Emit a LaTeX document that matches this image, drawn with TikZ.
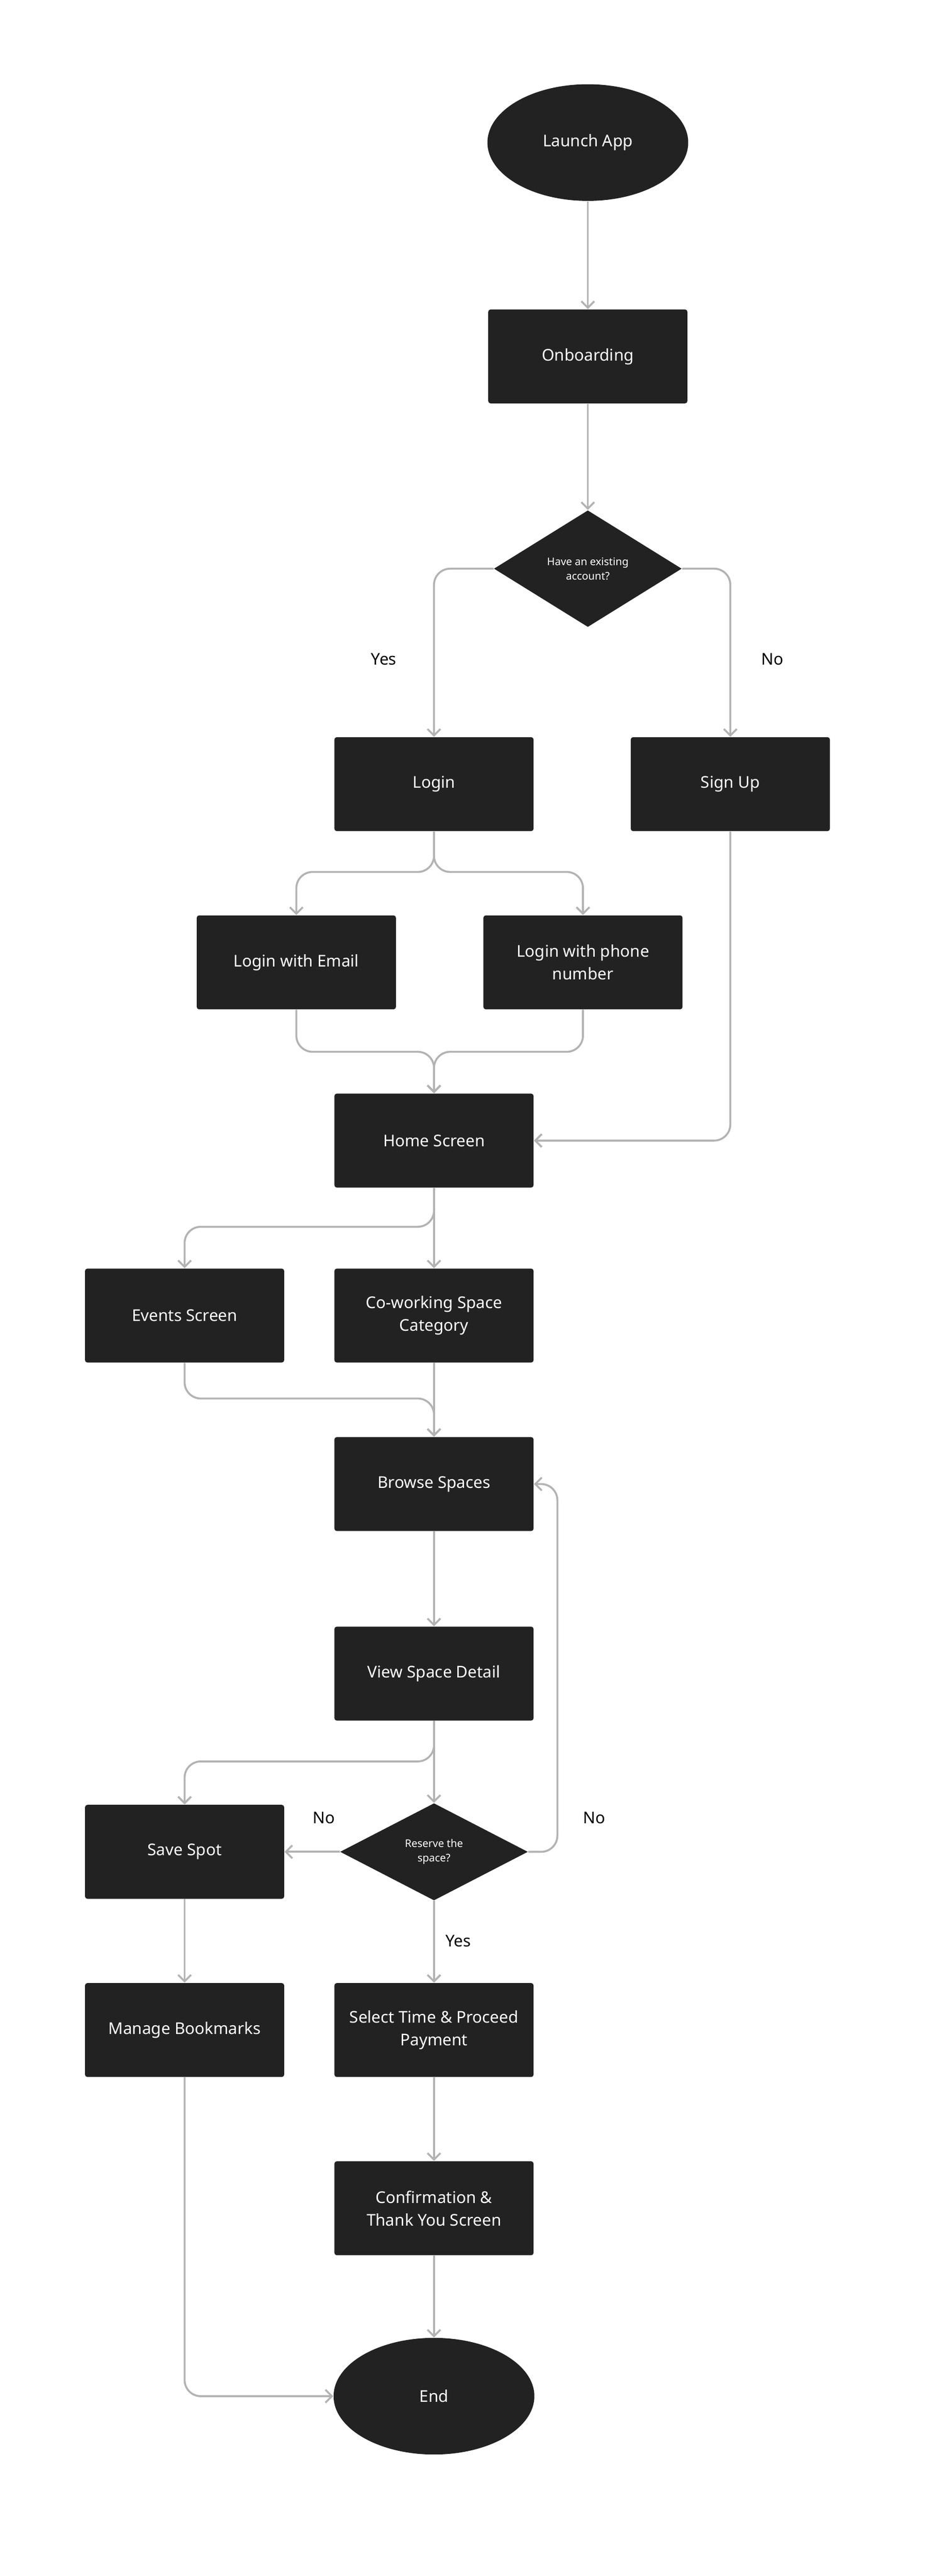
\documentclass[tikz,border=0pt]{standalone}
\usepackage{fontspec}
\setmainfont{Noto Sans}
\usetikzlibrary{shapes.geometric,arrows.meta}
\definecolor{box}{HTML}{222222}
\definecolor{ln}{HTML}{B3B3B3}
\begin{document}
\begin{tikzpicture}[x=1pt,y=-1pt,
  rect/.style={draw=none,fill=box,rounded corners=1.5pt,minimum width=123pt,minimum height=58pt,text=white,align=center,font=\fontsize{10}{14}\selectfont,inner sep=0pt},
  oval/.style={ellipse,fill=box,minimum width=124pt,minimum height=72pt,text=white,font=\fontsize{10}{12}\selectfont\bfseries,inner sep=0pt},
  dia/.style={diamond,fill=box,minimum width=116pt,minimum height=72pt,text=white,align=center,font=\fontsize{6.5}{9}\selectfont,inner sep=0pt},
  conn/.style={draw=ln,line width=1.2pt,rounded corners=10pt,-{Straight Barb[length=4pt,width=8pt]}},
  lab/.style={font=\fontsize{10}{12}\selectfont\bfseries,text=black}]
\fill[white] (0,0) rectangle (574,1590);
\node[oval] (launch) at (363,88) {Launch App};
\node[rect] (onb) at (363,220) {Onboarding};
\node[dia] (acc) at (363,351) {Have an existing\\account?};
\node[rect] (login) at (268,484) {Login};
\node[rect] (signup) at (451,484) {Sign Up};
\node[rect] (email) at (183,594) {Login with Email};
\node[rect] (phone) at (360,594) {Login with phone\\number};
\node[rect] (home) at (268,704) {Home Screen};
\node[rect] (events) at (114,812) {Events Screen};
\node[rect] (cow) at (268,812) {Co-working Space\\Category};
\node[rect] (browse) at (268,916) {Browse Spaces};
\node[rect] (view) at (268,1033) {View Space Detail};
\node[dia,minimum height=60pt] (res) at (268,1143) {Reserve the\\space?};
\node[rect] (save) at (114,1143) {Save Spot};
\node[rect] (manage) at (114,1253) {Manage Bookmarks};
\node[rect] (select) at (268,1253) {Select Time \& Proceed\\Payment};
\node[rect] (conf) at (268,1363) {Confirmation \&\\Thank You Screen};
\node[oval] (end) at (268,1479) {End};
\node[lab] (yes1) at (237,407) {Yes};
\node[lab] (no1) at (477,407) {No};
\node[lab] (no2) at (200,1122) {No};
\node[lab] (no3) at (367,1122) {No};
\node[lab] (yes2) at (283,1198) {Yes};
\draw[conn] (launch) -- (onb);
\draw[conn] (onb) -- (acc);
\draw[conn] (acc.west) -| (login.north);
\draw[conn] (acc.east) -| (signup.north);
\draw[conn] (login.south) -- ++(0,25) -| (email.north);
\draw[conn] (login.south) -- ++(0,25) -| (phone.north);
\draw[conn] (email.south) -- ++(0,26) -| (home.north);
\draw[conn] (phone.south) -- ++(0,26) -| (home.north);
\draw[conn] (signup.south) |- (home.east);
\draw[conn] (home.south) -- ++(0,24) -| (events.north);
\draw[conn] (home) -- (cow);
\draw[conn] (events.south) -- ++(0,22) -| (browse.north);
\draw[conn] (cow) -- (browse);
\draw[conn] (browse) -- (view);
\draw[conn] (view.south) -- ++(0,25) -| (save.north);
\draw[conn] (view) -- (res);
\draw[conn] (res.west) -- (save.east);
\draw[conn] (res.east) -- ++(18,0) |- (browse.east);
\draw[conn] (res) -- (select);
\draw[conn] (save) -- (manage);
\draw[conn] (manage.south) |- (end.west);
\draw[conn] (select) -- (conf);
\draw[conn] (conf) -- (end);
\end{tikzpicture}
\end{document}
